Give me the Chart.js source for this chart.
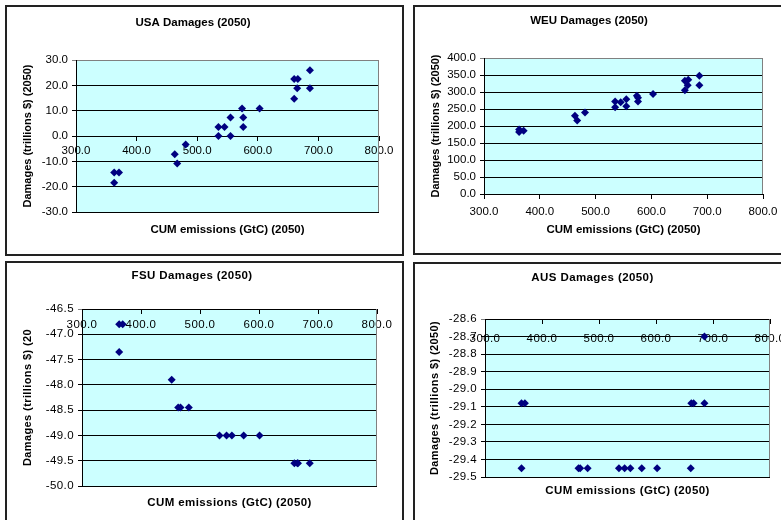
<!DOCTYPE html>
<html><head><meta charset="utf-8">
<script src="https://cdn.jsdelivr.net/npm/chart.js@4"></script>
<style>
html,body{margin:0;padding:0;background:#fff;overflow:hidden;width:781px;height:520px;position:relative;}
.frame{position:absolute;border:2px solid #222;box-sizing:border-box;}
canvas{position:absolute;}
</style></head><body>
<div class="frame" style="left:5px;top:5px;width:399px;height:251px"></div>
<div class="frame" style="left:413px;top:5px;width:400px;height:250px"></div>
<div class="frame" style="left:5px;top:261px;width:399px;height:300px"></div>
<div class="frame" style="left:413px;top:262px;width:400px;height:300px"></div>
<canvas id="usa" style="left:7px;top:7px;width:395px;height:247px" width="395" height="247"></canvas>
<canvas id="weu" style="left:415px;top:7px;width:374px;height:246px" width="374" height="246"></canvas>
<canvas id="fsu" style="left:7px;top:263px;width:395px;height:260px" width="395" height="260"></canvas>
<canvas id="aus" style="left:415px;top:264px;width:374px;height:260px" width="374" height="260"></canvas>
<script>
// ---- data ----
const xTickRange = [300, 800, 100];
const xAxisTitle = "CUM emissions (GtC) (2050)";

const usaX = [363,363,371,463,467,481,535,535,545,555,555,574,576,576,603,660,666,660,665,686,686];
const usaY = [-18.5,-14.4,-14.4,-7.2,-10.9,-3.4,3.6,0.0,3.6,7.3,0.0,10.9,7.3,3.6,10.9,22.5,22.5,14.7,18.8,26.0,18.8];

const weuX = [363,363,371,463,467,481,535,535,545,555,555,574,576,576,603,660,666,660,665,686,686];
const weuY = [182,190,186,230,216,240,272,255,270,279,258,289,283,272,294,333,336,305,320,348,320];

const fsuX = [363,369,363,452,463,467,481,533,545,554,574,601,660,665,666,686];
const fsuY = [-46.8,-46.8,-47.35,-47.9,-48.45,-48.45,-48.45,-49.0,-49.0,-49.0,-49.0,-49.0,-49.55,-49.55,-49.55,-49.55];

const ausX = [364,370,662,666,685,364,464,467,480,535,545,555,575,602,661,685];
const ausY = [-29.08,-29.08,-29.08,-29.08,-29.08,-29.45,-29.45,-29.45,-29.45,-29.45,-29.45,-29.45,-29.45,-29.45,-29.45,-28.7];

const FONT = "'Liberation Sans', Arial, sans-serif";

const bgPlugin = {
  id: 'plotBg',
  beforeDraw(chart, args, opts) {
    const {ctx, chartArea: a} = chart;
    ctx.letterSpacing = opts.ls || '0px';
    ctx.save();
    ctx.fillStyle = '#CCFFFF';
    ctx.fillRect(a.left, a.top, a.right - a.left, a.bottom - a.top);
    ctx.restore();
  },
  beforeDatasetsDraw(chart) {
    const {ctx, chartArea: a} = chart;
    ctx.save();
    ctx.strokeStyle = '#808080';
    ctx.lineWidth = 1;
    ctx.beginPath();
    ctx.moveTo(Math.round(a.right) - 0.5, a.top);
    ctx.lineTo(Math.round(a.right) - 0.5, a.bottom);
    ctx.stroke();
    ctx.restore();
  }
};

function build(id, s) {
  const g = s.g;
  const lh = 1.2;
  const tFont = {family: FONT, size: 11.5, weight: 'bold'};
  const tLH = tFont.size * lh;
  const titlePadTop = g.titleY - tLH / 2;
  const titlePadBot = g.top - titlePadTop - tLH;
  const xtPadBot = g.H - g.xTitleY - tLH / 2;
  const xtPadTop = (g.H - g.bottom) - tLH - xtPadBot;
  const yFont = {family: FONT, size: 11, weight: 'bold'};
  const yLH = yFont.size * lh;
  const tickFont = {family: FONT, size: 11.5};
  new Chart(document.getElementById(id), {
    type: 'scatter',
    data: {datasets: [{
      data: s.x.map((v, i) => ({x: v, y: s.y[i]})),
      pointStyle: 'rectRot', pointRadius: 4, pointHoverRadius: 4,
      backgroundColor: '#000080', borderColor: '#000080', borderWidth: 0
    }]},
    options: {
      responsive: false, animation: false, devicePixelRatio: 1,
      layout: {padding: {left: 0, top: 0, right: g.W - g.right, bottom: 0}},
      plugins: {
        legend: {display: false}, tooltip: {enabled: false},
        title: {display: true, text: s.title, color: '#000', font: tFont,
                padding: {top: titlePadTop, bottom: titlePadBot}},
        plotBg: {ls: s.ls}
      },
      scales: {
        x: {
          type: 'linear', position: {y: s.cross},
          min: xTickRange[0], max: xTickRange[1],
          ticks: {stepSize: xTickRange[2], autoSkip: false, maxRotation: 0, padding: s.lp,
                  color: '#000', font: tickFont, callback: v => Number(v).toFixed(1)},
          grid: {display: true, drawOnChartArea: false, drawTicks: true, tickLength: 4, color: '#000'},
          border: {display: true, color: '#000', width: 1},
          afterFit: sc => { sc.paddingLeft = 0; sc.paddingRight = 0; }
        },
        x2: {
          type: 'linear', axis: 'x', position: 'bottom',
          min: xTickRange[0], max: xTickRange[1],
          ticks: {display: false}, grid: {display: false, drawTicks: false, tickLength: 0},
          border: {display: false},
          title: {display: true, text: xAxisTitle, color: '#000', font: tFont,
                  padding: {top: xtPadTop, bottom: xtPadBot}},
          afterFit: sc => { sc.height = g.H - g.bottom; }
        },
        y: {
          type: 'linear', position: 'left', min: s.yMin, max: s.yMax,
          ticks: {stepSize: s.yStep, autoSkip: false, padding: 4, color: '#000', font: tickFont,
                  callback: v => Number(v).toFixed(1)},
          grid: {color: c => (c.tick && Math.abs(c.tick.value - s.yMax) < 1e-6) ? '#808080' : '#000',
                 tickLength: 4, lineWidth: 1},
          border: {color: '#000', width: 1},
          title: {display: true, text: s.yTitle, color: '#000', font: yFont,
                  padding: {top: g.yTitleX - yLH / 2, bottom: 0}},
          afterFit: sc => { sc.width = g.left; }
        }
      }
    },
    plugins: [bgPlugin]
  });
}

build('usa', {title: 'USA Damages (2050)', yTitle: 'Damages (trillions $) (2050)',
  x: usaX, y: usaY, yMin: -30, yMax: 30, yStep: 10, cross: 0, lp: 4, ls: '0px',
  g: {W: 395, H: 247, left: 69, right: 372, top: 53, bottom: 205, titleY: 16, xTitleY: 223, yTitleX: 21}});
build('weu', {title: 'WEU Damages (2050)', yTitle: 'Damages (trillions $) (2050)',
  x: weuX, y: weuY, yMin: 0, yMax: 400, yStep: 50, cross: 0, lp: 7, ls: '0px',
  g: {W: 374, H: 246, left: 69, right: 348, top: 51, bottom: 187, titleY: 14, xTitleY: 223, yTitleX: 21}});
build('fsu', {title: 'FSU Damages (2050)', yTitle: 'Damages (trillions $) (20',
  x: fsuX, y: fsuY, yMin: -50, yMax: -46.5, yStep: 0.5, cross: -46.5, lp: 5, ls: '0.4px',
  g: {W: 395, H: 260, left: 75, right: 370, top: 46, bottom: 223, titleY: 13, xTitleY: 240, yTitleX: 21}});
build('aus', {title: 'AUS Damages (2050)', yTitle: 'Damages (trillions $) (2050)',
  x: ausX, y: ausY, yMin: -29.5, yMax: -28.6, yStep: 0.1, cross: -28.6, lp: 9, ls: '0.4px',
  g: {W: 374, H: 260, left: 70, right: 355, top: 55, bottom: 213, titleY: 14, xTitleY: 227, yTitleX: 20}});
</script>
</body></html>
